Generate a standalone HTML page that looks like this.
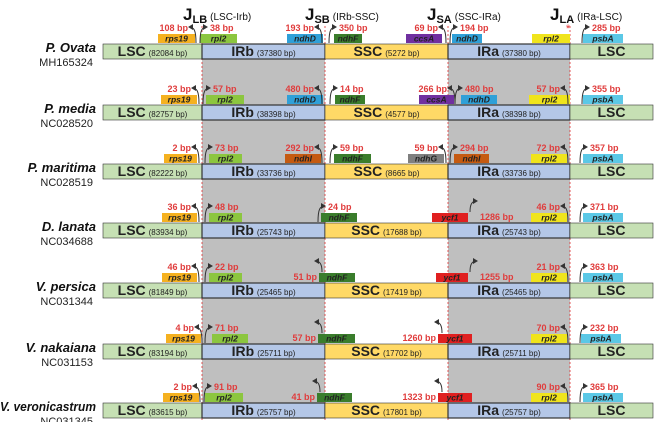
<!DOCTYPE html>
<html><head><meta charset="utf-8"><style>
html,body{margin:0;padding:0;background:#fff;}
svg{display:block;font-family:"Liberation Sans",Arial,sans-serif;}
</style></head><body>
<svg id="chart" width="658" height="422" viewBox="0 0 658 422">
<defs><marker id="ah" markerWidth="6" markerHeight="6" refX="4" refY="3" orient="auto"><path d="M0,0 L5,3 L0,6 z" fill="#333"/></marker></defs>
</svg>
<script>
const species=["P. Ovata","P. media","P. maritima","D. lanata","V. persica","V. nakaiana","V. veronicastrum"];
const accessions=["MH165324","NC028520","NC028519","NC034688","NC031344","NC031153","NC031345"];
const lscSizes=[82084,82757,82222,83934,81849,83194,83615];
const irbSizes=[37380,38398,33736,25743,25465,25711,25757];
const sscSizes=[5272,4577,8665,17688,17419,17702,17801];
const iraSizes=[37380,38398,33736,25743,25465,25711,25757];
const rowTops=[44,105,164,223,283,344,403];
const geneColors={rps19:"#f5b120",rpl2b:"#8cc63f",rpl2a:"#f0e41c",ndhD:"#2fa0d8",ndhF:"#3a7d2c",ccsA:"#7030a0",psbA:"#5bc8e6",ndhI:"#c55a11",ndhG:"#7f7f7f",ycf1:"#e02020"};
// [gene, colorKey, x1, x2, label, arrowX, dir, geneLevel]
const genes=[
 [["rps19","rps19",158,195,"108 bp",196,"L",0],["rpl2","rpl2b",200,237,"38 bp",200,"R",0],["ndhD","ndhD",287,323,"193 bp",322,"L",0],["ndhF","ndhF",334,362,"350 bp",329,"R",0],["ccsA","ccsA",406,442,"69 bp",446,"L",0],["ndhD","ndhD",452,482,"194 bp",450,"R",0],["rpl2","rpl2a",532,570,"",0,"",0],["psbA","psbA",583,623,"285 bp",582,"R",0]],
 [["rps19","rps19",161,197,"23 bp",199,"L",0],["rpl2","rpl2b",206,244,"57 bp",203,"R",0],["ndhD","ndhD",287,323,"480 bp",322,"L",0],["ndhF","ndhF",335,365,"14 bp",330,"R",0],["ccsA","ccsA",419,454,"266 bp",455,"L",0],["ndhD","ndhD",461,497,"480 bp",455,"R",0],["rpl2","rpl2a",529,570,"57 bp",568,"L",0],["psbA","psbA",583,623,"355 bp",582,"R",0]],
 [["rps19","rps19",164,197,"2 bp",199,"L",0],["rpl2","rpl2b",209,242,"73 bp",205,"R",0],["ndhI","ndhI",285,321,"292 bp",322,"L",0],["ndhF","ndhF",334,371,"59 bp",330,"R",0],["ndhG","ndhG",408,444,"59 bp",446,"L",0],["ndhI","ndhI",454,489,"294 bp",450,"R",0],["rpl2","rpl2a",531,567,"72 bp",568,"L",0],["psbA","psbA",583,623,"357 bp",580,"R",0]],
 [["rps19","rps19",162,197,"36 bp",199,"L",0],["rpl2","rpl2b",209,242,"48 bp",205,"R",0],["ndhF","ndhF",321,357,"24 bp",318,"R",0],["ycf1","ycf1",432,468,"1286 bp",470,"R",1],["rpl2","rpl2a",531,567,"46 bp",568,"L",0],["psbA","psbA",583,623,"371 bp",580,"R",0]],
 [["rps19","rps19",162,197,"46 bp",199,"L",0],["rpl2","rpl2b",209,242,"22 bp",205,"R",0],["ndhF","ndhF",319,355,"51 bp",322,"L",1],["ycf1","ycf1",436,468,"1255 bp",470,"R",1],["rpl2","rpl2a",531,567,"21 bp",568,"L",0],["psbA","psbA",583,623,"363 bp",580,"R",0]],
 [["rps19","rps19",166,201,"4 bp",202,"L",0],["rpl2","rpl2b",212,248,"71 bp",205,"R",0],["ndhF","ndhF",318,355,"57 bp",322,"L",1],["ycf1","ycf1",438,472,"1260 bp",442,"L",1],["rpl2","rpl2a",531,567,"70 bp",568,"L",0],["psbA","psbA",581,621,"232 bp",580,"R",0]],
 [["rps19","rps19",163,199,"2 bp",200,"L",0],["rpl2","rpl2b",205,243,"91 bp",204,"R",0],["ndhF","ndhF",317,352,"41 bp",320,"L",1],["ycf1","ycf1",438,472,"1323 bp",442,"L",1],["rpl2","rpl2a",531,567,"90 bp",568,"L",0],["psbA","psbA",583,623,"365 bp",580,"R",0]]
];
const junctions=[["LB","(LSC-Irb)",183],["SB","(IRb-SSC)",305],["SA","(SSC-IRa)",427],["LA","(IRa-LSC)",550]];
const X=[103,202,325,448,570,653];
const H=15;
const svg=document.getElementById('chart');
const NS="http://www.w3.org/2000/svg";
function mk(tag,attrs,parent){const e=document.createElementNS(NS,tag);for(const k in attrs)e.setAttribute(k,attrs[k]);(parent||svg).appendChild(e);return e;}
for(let i=0;i<rowTops.length-1;i++){
 for(const [a,b] of [[X[1],X[2]],[X[3],X[4]]]){
  const r=mk('rect',{x:a,y:rowTops[i]+H,width:b-a,height:rowTops[i+1]-rowTops[i]-H,fill:"#bfbfbf"});
  
  
 }
}
for(const xx of [X[1],X[2],X[3],X[4]]){
 const l=mk('line',{x1:xx,x2:xx,y1:26,y2:422,stroke:"#e03030","stroke-width":0.8,"stroke-dasharray":"2,2"});
 
 
}
junctions.forEach(j=>{
 const t=mk('text',{x:j[2],y:20,"font-size":17,"font-weight":"bold",fill:"#111"});
 
 
 t.innerHTML=`J<tspan font-size="11" dy="3">${j[0]}</tspan><tspan font-size="10" font-weight="normal" dy="-3" dx="3">${j[1]}</tspan>`;
});
const regionColors=["#c6e0b4","#b4c7e7","#ffd966","#b4c7e7","#c6e0b4"];
const regionNames=["LSC","IRb","SSC","IRa","LSC"];
species.forEach((sp,i)=>{
 const top=rowTops[i];
 const n=mk('text',{x:96,y:top+8,"font-size":13,"font-weight":"bold","font-style":"italic","text-anchor":"end",fill:"#111"});
 n.textContent=sp;
 if(sp.length>12){n.setAttribute('textLength','96');n.setAttribute('lengthAdjust','spacingAndGlyphs');}
 
 
 const a=mk('text',{x:93,y:top+22,"font-size":11,"text-anchor":"end",fill:"#222"});
 a.textContent=accessions[i];
 
 
 const sizes=[lscSizes[i],irbSizes[i],sscSizes[i],iraSizes[i],null];
 for(let r=0;r<5;r++){
  const rect=mk('rect',{x:X[r],y:top,width:X[r+1]-X[r],height:H,fill:regionColors[r],stroke:"#333","stroke-width":(r==1||r==3)?1.2:0.6});
  
  
  const t=mk('text',{x:(X[r]+X[r+1])/2,y:top+12,"font-size":14,"font-weight":"bold","text-anchor":"middle",fill:"#222"});
  t.innerHTML=regionNames[r]+(sizes[r]?`<tspan font-size="8" font-weight="normal" dx="3">(${sizes[r]} bp)</tspan>`:"");
  
  
 }
 genes[i].forEach(g=>{
  const [name,ck,x1,x2,lab,ax,dir,gl]=g;
  const gr=mk('rect',{x:x1,y:top-10,width:x2-x1,height:9,fill:geneColors[ck]});
  
  
  const gt=mk('text',{x:(x1+x2)/2,y:top-2.5,"font-size":8.5,"font-weight":"bold","font-style":"italic","text-anchor":"middle",fill:"#222"});
  gt.textContent=name;
  
  
  if(!lab)return;
  const base=gl?top-11:top-1;
  const tipY=gl?top-22:top-17, s=dir=="L"?-1:1;
  const p=mk('path',{d:`M${ax},${base} C${ax},${tipY+3} ${ax+s*2},${tipY} ${ax+s*7},${tipY}`,fill:"none",stroke:"#333","stroke-width":1,"marker-end":"url(#ah)"});
  
  
  let tx,ty,anchor;
  if(gl){ty=top-3;if(dir=="L"){tx=x1-2;anchor="end";}else{tx=x2+12;anchor="start";}}
  else{ty=top-13;if(dir=="L"){tx=ax-8;anchor="end";}else{tx=ax+10;anchor="start";}}
  const lt=mk('text',{x:tx,y:ty,"font-size":9,"font-weight":"bold","text-anchor":anchor,fill:"#e03c3c"});
  lt.textContent=lab;
  
  
 });
});
const star=mk('text',{x:568,y:32,"font-size":11,"text-anchor":"middle",fill:"#e03030"});
star.textContent="*";


</script>
</body></html>
